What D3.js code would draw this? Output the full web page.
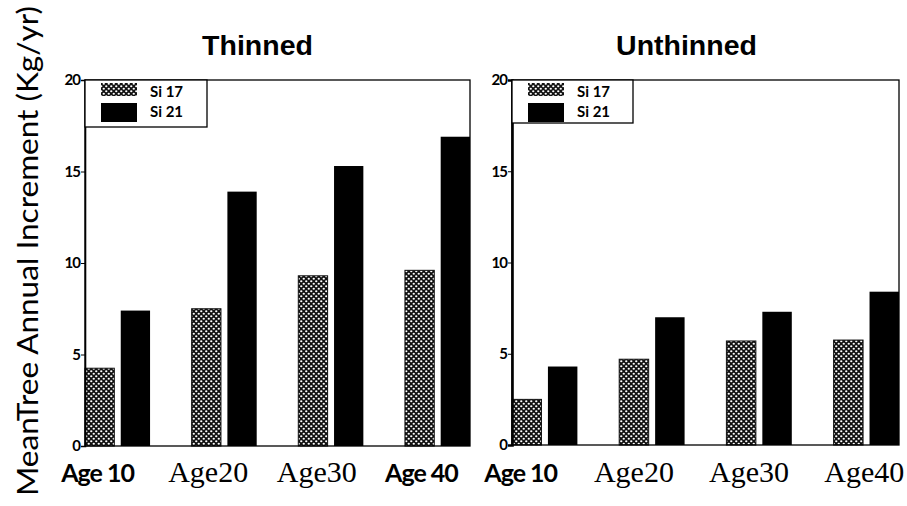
<!DOCTYPE html>
<html>
<head>
<meta charset="utf-8">
<script src="https://cdn.jsdelivr.net/npm/d3@7"></script>
<style>
body { margin: 0; background: #fff; }
svg { display: block; }
</style>
</head>
<body>
<div id="main"></div>
<script>
var outerWidth = 907;
var outerHeight = 506;

// data
var ages = ["Age 10", "Age20", "Age30", "Age40"];
var seriesNames = ["Si 17", "Si 21"];
var thinnedSi17 = [4.25, 7.5, 9.3, 9.6];
var thinnedSi21 = [7.4, 13.9, 15.3, 16.9];
var unthinnedSi17 = [2.5, 4.7, 5.7, 5.75];
var unthinnedSi21 = [4.3, 7.0, 7.3, 8.4];
var yTicks = [0, 5, 10, 15, 20];
var xLabels = ["Age 10", "Age20", "Age30", "Age 40", "Age 10", "Age20", "Age30", "Age40"];
var xLabelSans = [true, false, false, true, true, false, false, false];

// label nudges (the typed labels do not sit exactly under the groups)
var labelShift = [-20, -16, -14, -16, -24, -18, -10, -2];

var panels = [
  {title: "Thinned", s17: thinnedSi17, s21: thinnedSi21, left: 85, right: 470, top: 80, base: 446, axisW: 1.6,
   legend: {w: 122, h: 47}},
  {title: "Unthinned", s17: unthinnedSi17, s21: unthinnedSi21, left: 512, right: 899, top: 80, base: 445, axisW: 2.6,
   legend: {w: 121, h: 43}}
];

var svg = d3.select("#main")
    .append("svg")
    .attr("width", outerWidth)
    .attr("height", outerHeight);

// dotted fill for Si 17
var pat = svg.append("defs").append("pattern")
    .attr("id", "dots")
    .attr("patternUnits", "userSpaceOnUse")
    .attr("width", 5)
    .attr("height", 5);
pat.append("rect").attr("width", 5).attr("height", 5).attr("fill", "#111");
pat.append("ellipse").attr("cx", 1.25).attr("cy", 1.25).attr("rx", 1.15).attr("ry", 0.9).attr("fill", "#fff");
pat.append("ellipse").attr("cx", 3.75).attr("cy", 3.75).attr("rx", 1.15).attr("ry", 0.9).attr("fill", "#fff");

var sansBold = "Lato, 'Open Sans', sans-serif";

panels.forEach(function(p, pi) {
  var xScale = d3.scaleBand().domain(ages).range([p.left, p.right]).paddingInner(0.39).paddingOuter(0);
  var xInner = d3.scaleBand().domain(seriesNames).range([0, xScale.bandwidth()]).paddingInner(0.18);
  var yScale = d3.scaleLinear().domain([0, 20]).range([p.base, p.top]);

  var g = svg.append("g");

  // title
  g.append("text")
      .attr("x", (p.left + p.right) / 2 - (pi === 0 ? 20 : 19))
      .attr("y", 55)
      .attr("text-anchor", "middle")
      .style("font-family", "'Liberation Sans', Arial, sans-serif")
      .style("font-weight", "bold")
      .style("font-size", "28.5px")
      .text(p.title);

  // bars
  ages.forEach(function(a, i) {
    g.append("rect")
        .attr("x", xScale(a) + xInner("Si 17"))
        .attr("y", yScale(p.s17[i]))
        .attr("width", xInner.bandwidth())
        .attr("height", yScale(0) - yScale(p.s17[i]))
        .attr("fill", "url(#dots)")
        .attr("stroke", "#111")
        .attr("stroke-width", 1);
    g.append("rect")
        .attr("x", xScale(a) + xInner("Si 21"))
        .attr("y", yScale(p.s21[i]))
        .attr("width", xInner.bandwidth())
        .attr("height", yScale(0) - yScale(p.s21[i]))
        .attr("fill", "#000");
  });

  // frame
  g.append("rect")
      .attr("x", p.left)
      .attr("y", p.top)
      .attr("width", p.right - p.left)
      .attr("height", p.base - p.top)
      .attr("fill", "none")
      .attr("stroke", "#000")
      .attr("stroke-width", 1.3);

  // y axis
  var yAxis = d3.axisLeft(yScale).tickValues(yTicks).tickSize(4).tickPadding(1);
  var yAxisG = g.append("g")
      .attr("transform", "translate(" + p.left + ",0)")
      .call(yAxis);
  yAxisG.select(".domain").attr("stroke-width", p.axisW);
  yAxisG.selectAll("text")
      .style("font-family", sansBold)
      .style("font-weight", "bold")
      .style("font-size", "15px")
      .style("letter-spacing", "-1px")
      .attr("fill", "#000");

  // legend
  var lg = g.append("g").attr("transform", "translate(" + p.left + "," + p.top + ")");
  lg.append("rect")
      .attr("width", p.legend.w)
      .attr("height", p.legend.h)
      .attr("fill", "#fff")
      .attr("stroke", "#000")
      .attr("stroke-width", 1.3);
  lg.append("rect").attr("x", 16).attr("y", 3).attr("width", 36).attr("height", 13)
      .attr("fill", "url(#dots)");
  lg.append("rect").attr("x", 16).attr("y", 23).attr("width", 36).attr("height", 19)
      .attr("fill", "#000");
  seriesNames.forEach(function(s, i) {
    lg.append("text")
        .attr("x", 65)
        .attr("y", 17 + i * 20)
        .style("font-family", sansBold)
        .style("font-weight", "bold")
        .style("font-size", "15px")
        .text(s);
  });
});

// x labels along the bottom
var labelCenters = [];
panels.forEach(function(p) {
  var xs = d3.scaleBand().domain(ages).range([p.left, p.right]).paddingInner(0.39).paddingOuter(0);
  ages.forEach(function(a) { labelCenters.push(xs(a) + xs.bandwidth() / 2); });
});
svg.append("g").selectAll("text")
    .data(xLabels)
    .join("text")
    .attr("x", (d, i) => labelCenters[i] + labelShift[i])
    .attr("y", 482)
    .attr("text-anchor", "middle")
    .style("font-family", (d, i) => xLabelSans[i] ? sansBold : "'Liberation Serif', 'Times New Roman', serif")
    .style("font-weight", (d, i) => xLabelSans[i] ? "bold" : "normal")
    .style("font-size", (d, i) => xLabelSans[i] ? "25px" : "30px")
    .style("letter-spacing", (d, i) => xLabelSans[i] ? "-1px" : "0px")
    .text(d => d);

// y axis title
svg.append("text")
    .attr("transform", "translate(38,251) rotate(-90)")
    .attr("text-anchor", "middle")
    .attr("textLength", 490)
    .attr("lengthAdjust", "spacingAndGlyphs")
    .style("font-family", "Lato, 'Open Sans', sans-serif")
    .style("font-size", "28px")
    .text("MeanTree Annual Increment (Kg/yr)");
</script>
</body>
</html>
